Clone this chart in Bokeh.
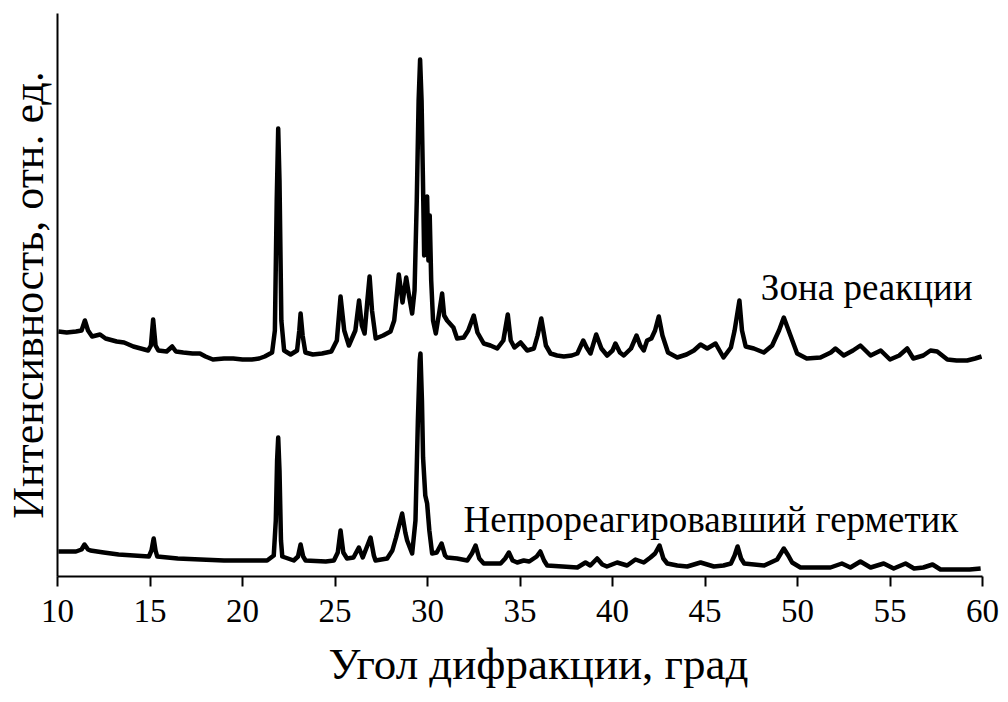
from bokeh.plotting import figure
from bokeh.models import Range1d, Label, FixedTicker, Title
from bokeh.embed import file_html
from bokeh.resources import INLINE

# ---- data (2θ in degrees, intensity in arbitrary units) ----
x_ticks = [10, 15, 20, 25, 30, 35, 40, 45, 50, 55, 60]

top_angle = [
    10.05, 10.5, 11.0, 11.3, 11.48, 11.65, 11.87, 12.3, 12.6, 13.2,
    13.6, 14.1, 14.5, 14.9, 15.05, 15.17, 15.3, 15.45, 15.9, 16.2,
    16.4, 16.8, 17.3, 17.7, 18.0, 18.4, 19.0, 19.5, 20.0, 20.5,
    20.9, 21.2, 21.6, 21.75, 21.85, 21.93, 22.0, 22.1, 22.25, 22.6,
    22.95, 23.07, 23.14, 23.25, 23.4, 23.8, 24.3, 24.8, 25.1, 25.3,
    25.5, 25.75, 26.1, 26.3, 26.45, 26.6, 26.75, 26.87, 27.0, 27.2,
    27.6, 28.0, 28.2, 28.45, 28.65, 28.85, 29.0, 29.17, 29.3, 29.42,
    29.52, 29.6, 29.68, 29.75, 29.82, 29.9, 29.98, 30.05, 30.12, 30.2,
    30.3, 30.45, 30.65, 30.79, 30.9, 31.06, 31.4, 31.6, 31.96, 32.2,
    32.5, 32.7, 33.04, 33.4, 33.77, 34.1, 34.34, 34.5, 34.7, 35.03,
    35.39, 35.75, 35.95, 36.15, 36.4, 36.65, 37.0, 37.37, 37.8, 38.1,
    38.42, 38.6, 38.81, 39.12, 39.4, 39.71, 40.0, 40.16, 40.4, 40.61,
    41.0, 41.3, 41.5, 41.69, 41.87, 42.1, 42.3, 42.5, 42.7, 43.0,
    43.5, 44.0, 44.4, 44.76, 45.12, 45.57, 46.0, 46.4, 46.6, 46.86,
    47.0, 47.2, 47.64, 48.18, 48.63, 49.0, 49.26, 49.62, 49.98, 50.5,
    51.24, 51.8, 52.05, 52.5, 53.0, 53.4, 53.95, 54.5, 55.0, 55.5,
    55.93, 56.26, 56.8, 57.19, 57.55, 58.1, 58.6, 59.17, 59.6, 59.95,
]
top_intensity = [
    246, 245, 246, 247, 257, 247, 241, 243, 239, 236,
    235, 231, 229, 227, 232, 258, 232, 227, 226, 231,
    226, 225, 224, 224, 221, 218, 219, 219, 218, 218,
    219, 221, 225, 247, 377, 449, 397, 257, 227, 223,
    227, 247, 264, 242, 225, 223, 224, 226, 237, 281,
    247, 232, 247, 277, 252, 244, 277, 301, 267, 239,
    242, 246, 257, 303, 275, 300, 282, 264, 287, 377,
    477, 518, 477, 402, 322, 367, 381, 317, 362, 297,
    257, 244, 267, 284, 262, 257, 250, 239, 240, 247,
    262, 245, 234, 232, 229, 237, 263, 237, 230, 235,
    227, 229, 242, 259, 232, 224, 222, 221, 222, 224,
    237, 230, 224, 243, 229, 222, 227, 234, 225, 222,
    229, 242, 232, 227, 237, 239, 247, 261, 242, 225,
    220, 223, 227, 233, 229, 234, 220, 230, 247, 277,
    247, 231, 229, 225, 232, 247, 260, 242, 224, 219,
    220, 225, 229, 222, 227, 232, 222, 227, 218, 222,
    229, 219, 222, 227, 226, 218, 217, 217, 219, 221,
]

bottom_angle = [
    10.05, 10.5, 11.0, 11.3, 11.46, 11.65, 11.78, 12.5, 13.3, 14.12,
    14.94, 15.08, 15.2, 15.3, 15.39, 16.5, 17.73, 19.0, 20.0, 21.0,
    21.33, 21.69, 21.8, 21.87, 21.93, 22.0, 22.08, 22.15, 22.77, 23.0,
    23.14, 23.28, 23.41, 24.5, 24.94, 25.15, 25.3, 25.45, 25.65, 26.0,
    26.29, 26.5, 26.92, 27.1, 27.19, 27.82, 28.1, 28.3, 28.63, 28.8,
    28.9, 29.17, 29.35, 29.48, 29.58, 29.62, 29.7, 29.76, 29.88, 29.98,
    30.1, 30.25, 30.5, 30.76, 30.95, 31.06, 31.6, 32.15, 32.4, 32.6,
    32.8, 33.04, 33.95, 34.2, 34.4, 34.6, 34.85, 35.2, 35.5, 35.9,
    36.1, 36.3, 36.47, 37.3, 38.1, 38.54, 38.8, 39.17, 39.45, 39.7,
    40.25, 40.79, 41.24, 41.69, 42.05, 42.3, 42.54, 42.75, 42.96, 43.5,
    44.04, 44.76, 45.48, 46.0, 46.4, 46.6, 46.76, 46.95, 47.12, 48.2,
    48.9, 49.26, 49.5, 49.71, 50.16, 51.0, 51.78, 52.4, 52.86, 53.4,
    53.95, 54.66, 55.2, 55.84, 56.3, 56.8, 57.3, 57.73, 58.5, 59.3,
    59.9,
]
bottom_intensity = [
    26, 26, 26, 28, 33, 28, 27, 25, 23, 22,
    21, 27, 39, 27, 21, 19, 18, 17, 17, 17,
    17, 22, 57, 117, 140, 107, 37, 21, 17, 21,
    33, 21, 17, 16, 17, 25, 47, 25, 19, 20,
    30, 20, 40, 22, 17, 19, 27, 40, 64, 45,
    37, 24, 57, 157, 217, 224, 177, 120, 82, 74,
    47, 24, 25, 34, 22, 20, 19, 17, 24, 32,
    19, 14, 14, 19, 25, 17, 15, 17, 16, 21,
    26, 17, 12, 11, 10, 15, 12, 19, 13, 11,
    15, 12, 18, 15, 20, 24, 32, 19, 14, 12,
    11, 15, 11, 12, 14, 22, 31, 19, 14, 12,
    18, 29, 22, 15, 10, 10, 10, 14, 10, 16,
    10, 14, 9, 14, 9, 10, 13, 8, 8, 8,
    9,
]

top_label = "Зона реакции"
bottom_label = "Непрореагировавший герметик"
x_title = "Угол дифракции, град"
y_title = "Интенсивность, отн. ед."

FONT = "Liberation Serif"

p = figure(
    width=1000, height=700,
    x_range=Range1d(10, 60), y_range=Range1d(1, 564),
    output_backend="svg", toolbar_location=None,
    min_border_left=57, min_border_right=18,
    min_border_top=13, min_border_bottom=124,
)
p.outline_line_color = None
p.xgrid.visible = False
p.ygrid.visible = False
p.background_fill_color = "white"
p.border_fill_color = "white"

p.line(top_angle, top_intensity, line_width=4.5, line_color="black", line_join="round")
p.line(bottom_angle, bottom_intensity, line_width=4.5, line_color="black", line_join="round")

# x axis
p.xaxis.ticker = FixedTicker(ticks=x_ticks, minor_ticks=[])
p.xaxis.axis_line_width = 2
p.xaxis.axis_line_color = "black"
p.xaxis.major_tick_line_width = 2
p.xaxis.major_tick_line_color = "black"
p.xaxis.major_tick_in = 0
p.xaxis.major_tick_out = 10
p.xaxis.minor_tick_line_color = None
p.xaxis.major_label_text_font = FONT
p.xaxis.major_label_text_font_size = "33px"
p.xaxis.major_label_text_color = "black"
p.xaxis.major_label_standoff = 13

# y axis: line and title only
p.yaxis.ticker = FixedTicker(ticks=[], minor_ticks=[])
p.yaxis.axis_line_width = 2
p.yaxis.axis_line_color = "black"
p.yaxis.major_tick_line_color = None
p.yaxis.minor_tick_line_color = None
p.yaxis.major_label_text_font_size = "0px"
p.yaxis.axis_label = y_title
p.yaxis.axis_label_text_font = FONT
p.yaxis.axis_label_text_font_size = "44px"
p.yaxis.axis_label_text_font_style = "normal"
p.yaxis.axis_label_text_color = "black"
p.yaxis.axis_label_standoff = 5

# x title (placed right of the frame centre as in the reference)
p.add_layout(Title(text=x_title, align="left", offset=271, standoff=24,
                   text_font=FONT, text_font_size="45px",
                   text_font_style="normal", text_color="black"), "below")

# curve annotations
p.add_layout(Label(x=48.02, y=290, text=top_label, text_font=FONT,
                   text_font_size="37px", text_color="black",
                   text_align="left", text_baseline="alphabetic"))
p.add_layout(Label(x=31.95, y=58, text=bottom_label, text_font=FONT,
                   text_font_size="37px", text_color="black",
                   text_align="left", text_baseline="alphabetic"))

open("out.html", "w").write(file_html(p, INLINE))
